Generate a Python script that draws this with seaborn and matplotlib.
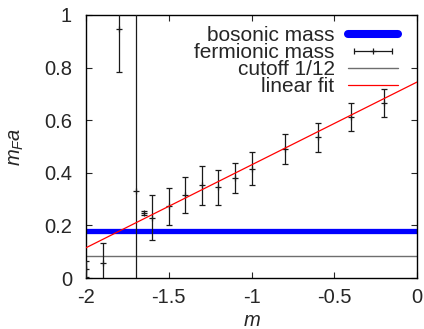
import numpy as np
import pandas as pd
import matplotlib
matplotlib.use("Agg")
import matplotlib.pyplot as plt
import seaborn as sns
from matplotlib.lines import Line2D
from matplotlib.legend_handler import HandlerLine2D, HandlerTuple

# ---- data ----
m_vals = [-2.0, -1.9, -1.8, -1.7, -1.65, -1.6, -1.5, -1.4, -1.3, -1.2, -1.1, -1.0, -0.8, -0.6, -0.4, -0.2]
mF_vals = [0.035, 0.057, 0.945, 0.33, 0.247, 0.23, 0.272, 0.315, 0.353, 0.345, 0.381, 0.415, 0.49, 0.535, 0.612, 0.664]
mF_err = [0.03, 0.075, 0.16, 1.5, 0.006, 0.085, 0.072, 0.068, 0.074, 0.066, 0.057, 0.063, 0.057, 0.055, 0.053, 0.053]

bosonic_mass = 0.177
cutoff = 1.0 / 12.0
fit_x = [-2.0, 0.0]
fit_y = [0.115, 0.745]

x_ticks = [-2, -1.5, -1, -0.5, 0]
x_ticklabels = ["-2", "-1.5", "-1", "-0.5", "0"]
y_ticks = [0, 0.2, 0.4, 0.6, 0.8, 1.0]
y_ticklabels = ["0", "0.2", "0.4", "0.6", "0.8", "1"]

# ---- style ----
sns.set_style("ticks")
plt.rcParams["font.family"] = ["Liberation Sans", "DejaVu Sans"]
plt.rcParams["mathtext.fontset"] = "custom"
plt.rcParams["mathtext.it"] = "Liberation Sans:italic"
plt.rcParams["mathtext.rm"] = "Liberation Sans"
FS = 14.5
LFS = 15.0

fig = plt.figure(figsize=(4.24, 3.29), dpi=100)
ax = fig.add_axes([86 / 424, 1 - 278 / 329, (417 - 86) / 424, (278 - 15) / 329])

fit_df = pd.DataFrame({"m": fit_x, "mFa": fit_y})
bos_df = pd.DataFrame({"m": [-2.0, 0.0], "mFa": [bosonic_mass, bosonic_mass]})
cut_df = pd.DataFrame({"m": [-2.0, 0.0], "mFa": [cutoff, cutoff]})

sns.lineplot(data=bos_df, x="m", y="mFa", ax=ax, color="#0000ff", lw=3.8, zorder=2, legend=False)
sns.lineplot(data=cut_df, x="m", y="mFa", ax=ax, color="#6e6e6e", lw=1.0, zorder=2, legend=False)
ax.errorbar(m_vals, mF_vals, yerr=mF_err, fmt="+", color="#1a1a1a", ms=5, mew=0.9,
            elinewidth=0.9, capsize=2.3, capthick=0.9, zorder=3)
sns.lineplot(data=fit_df, x="m", y="mFa", ax=ax, color="#ff0000", lw=0.9, zorder=4, legend=False)

ax.set_xlim(-2, 0)
ax.set_ylim(0, 1)
ax.set_xticks(x_ticks)
ax.set_xticklabels(x_ticklabels, fontsize=FS)
ax.set_yticks(y_ticks)
ax.set_yticklabels(y_ticklabels, fontsize=FS)
ax.tick_params(direction="in", length=4.5, width=0.8, top=True, right=True)
ax.tick_params(axis="x", pad=7)
ax.tick_params(axis="y", pad=10)
for s in ax.spines.values():
    s.set_linewidth(1.0)
    s.set_color("black")
ax.set_xlabel(r"$m$", fontsize=FS, labelpad=3)
ax.set_ylabel(r"$m_F a$", fontsize=FS, labelpad=13)

# ---- legend (gnuplot-like) ----
h_bos = Line2D([], [], color="#0000ff", lw=5.8)
h_caps = Line2D([], [], color="#1a1a1a", lw=0.9, marker="|", ms=5, mew=0.9)
h_plus = Line2D([], [], color="#1a1a1a", lw=0, marker="+", ms=5, mew=0.9)
h_cut = Line2D([], [], color="#6e6e6e", lw=1.0)
h_fit = Line2D([], [], color="#ff0000", lw=0.9)
leg = ax.legend([h_bos, (h_caps, h_plus), h_cut, h_fit],
                ["bosonic mass", "fermionic mass", "cutoff 1/12", "linear fit"],
                handler_map={h_caps: HandlerLine2D(numpoints=2), h_plus: HandlerLine2D(numpoints=1),
                             tuple: HandlerTuple(ndivide=1, pad=0)},
                loc="upper right", bbox_to_anchor=(0.943, 0.957), frameon=False,
                markerfirst=False, fontsize=LFS,
                handlelength=2.4, handletextpad=0.65, labelspacing=-0.1,
                borderaxespad=0, borderpad=0)

fig.savefig("out.png", dpi=100)
